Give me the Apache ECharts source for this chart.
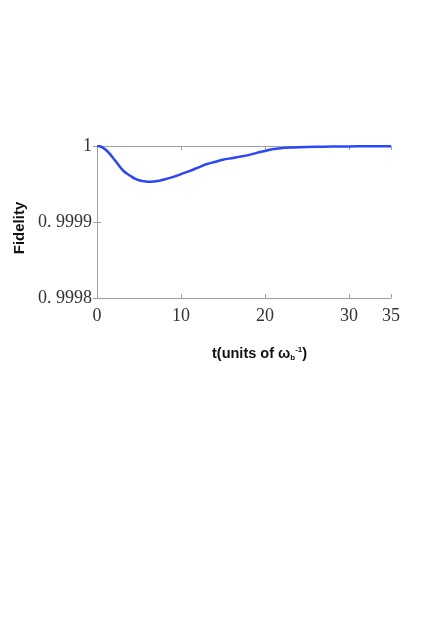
<!DOCTYPE html>
<html lang="en">
<head>
    <meta charset="UTF-8">
    <title>Fidelity</title>
    <script src="https://cdn.jsdelivr.net/npm/echarts@6.0.0/dist/echarts.min.js"></script>
    <style>
        html, body { margin: 0; padding: 0; background: #fff; }
        #main { width: 447px; height: 632px; }
    </style>
</head>
<body>
<div id="main"></div>
<script>
    // time, in units of 1/omega_b
    var tValues = [0, 0.5, 1, 1.5, 2, 2.5, 3, 3.5, 4, 4.5, 5, 5.5, 6, 6.5, 7, 8, 9, 10, 11, 12,
        13, 14, 15, 16, 17, 18, 19, 20, 21, 22, 23, 24, 26, 28, 30, 32, 35];
    // fidelity
    var fidelity = [1.0, 0.999999, 0.9999955, 0.99999, 0.999983, 0.999976, 0.999969, 0.999964,
        0.9999605, 0.999957, 0.999955, 0.9999538, 0.999953, 0.999953, 0.9999535, 0.999956,
        0.999959, 0.999963, 0.999967, 0.9999715, 0.999976, 0.999979, 0.999982, 0.999984,
        0.999986, 0.999988, 0.999991, 0.9999935, 0.999996, 0.9999972, 0.999998, 0.9999985,
        0.999999, 0.9999993, 0.9999995, 0.9999997, 0.9999998];
    var xTicks = [0, 10, 20, 30, 35];
    var yTicks = [0.9998, 0.9999, 1];

    var points = [];
    for (var i = 0; i < tValues.length; i++) {
        points.push([tValues[i], fidelity[i]]);
    }

    var chart = echarts.init(document.getElementById('main'));
    var boxLine = {show: true, lineStyle: {color: '#a0a0a0', width: 1}};
    var tick = {show: true, inside: true, length: 4, lineStyle: {color: '#a0a0a0'}};
    var tickFont = {fontFamily: 'Liberation Serif', fontSize: 18, color: '#333'};

    var option = {
        animation: false,
        grid: {left: 97, right: 56, top: 146, bottom: 334},
        xAxis: [{
            type: 'value',
            min: xTicks[0],
            max: xTicks[xTicks.length - 1],
            interval: 10,
            axisLine: boxLine,
            axisTick: tick,
            splitLine: {show: false},
            axisLabel: Object.assign({margin: 9, showMaxLabel: true}, tickFont)
        }, {
            type: 'value',
            position: 'top',
            min: 0, max: 35, interval: 10,
            axisLine: boxLine,
            axisTick: tick,
            splitLine: {show: false},
            axisLabel: {show: false}
        }],
        yAxis: [{
            type: 'value',
            min: yTicks[0],
            max: yTicks[yTicks.length - 1],
            interval: 0.0001,
            axisLine: boxLine,
            axisTick: tick,
            splitLine: {show: false},
            axisLabel: Object.assign({
                margin: 5,
                padding: [6, 0, 0, 0],
                formatter: function (v) {
                    if (Math.abs(v - 1) < 1e-9) return '1';
                    return v.toFixed(4).replace('.', '. ');
                }
            }, tickFont)
        }, {
            type: 'value',
            position: 'right',
            min: 0.9998, max: 1, interval: 0.0001,
            axisLine: boxLine,
            axisTick: tick,
            splitLine: {show: false},
            axisLabel: {show: false}
        }],
        graphic: [{
            type: 'text',
            x: 20, y: 228,
            rotation: Math.PI / 2,
            style: {
                text: 'Fidelity',
                fontFamily: 'Liberation Sans',
                fontWeight: 'bold',
                fontSize: 15,
                fill: '#111',
                align: 'center',
                verticalAlign: 'middle'
            }
        }, {
            type: 'text',
            left: 212, top: 346,
            style: {
                rich: {
                    m: {fontFamily: 'Liberation Sans', fontWeight: 'bold', fontSize: 14.5, fill: '#111'},
                    sub: {fontFamily: 'Liberation Sans', fontWeight: 'bold', fontSize: 8, fill: '#111', padding: [8, 0, 0, 0]},
                    sup: {fontFamily: 'Liberation Sans', fontWeight: 'bold', fontSize: 8, fill: '#111', padding: [0, 0, 8, 0]}
                },
                text: '{m|t(units of ω}{sub|b}{sup|-1}{m|)}'
            }
        }],
        series: [{
            type: 'line',
            data: points,
            smooth: 0.3,
            showSymbol: false,
            lineStyle: {color: '#2a46ff', width: 2.5}
        }]
    };
    chart.setOption(option);
</script>
</body>
</html>
